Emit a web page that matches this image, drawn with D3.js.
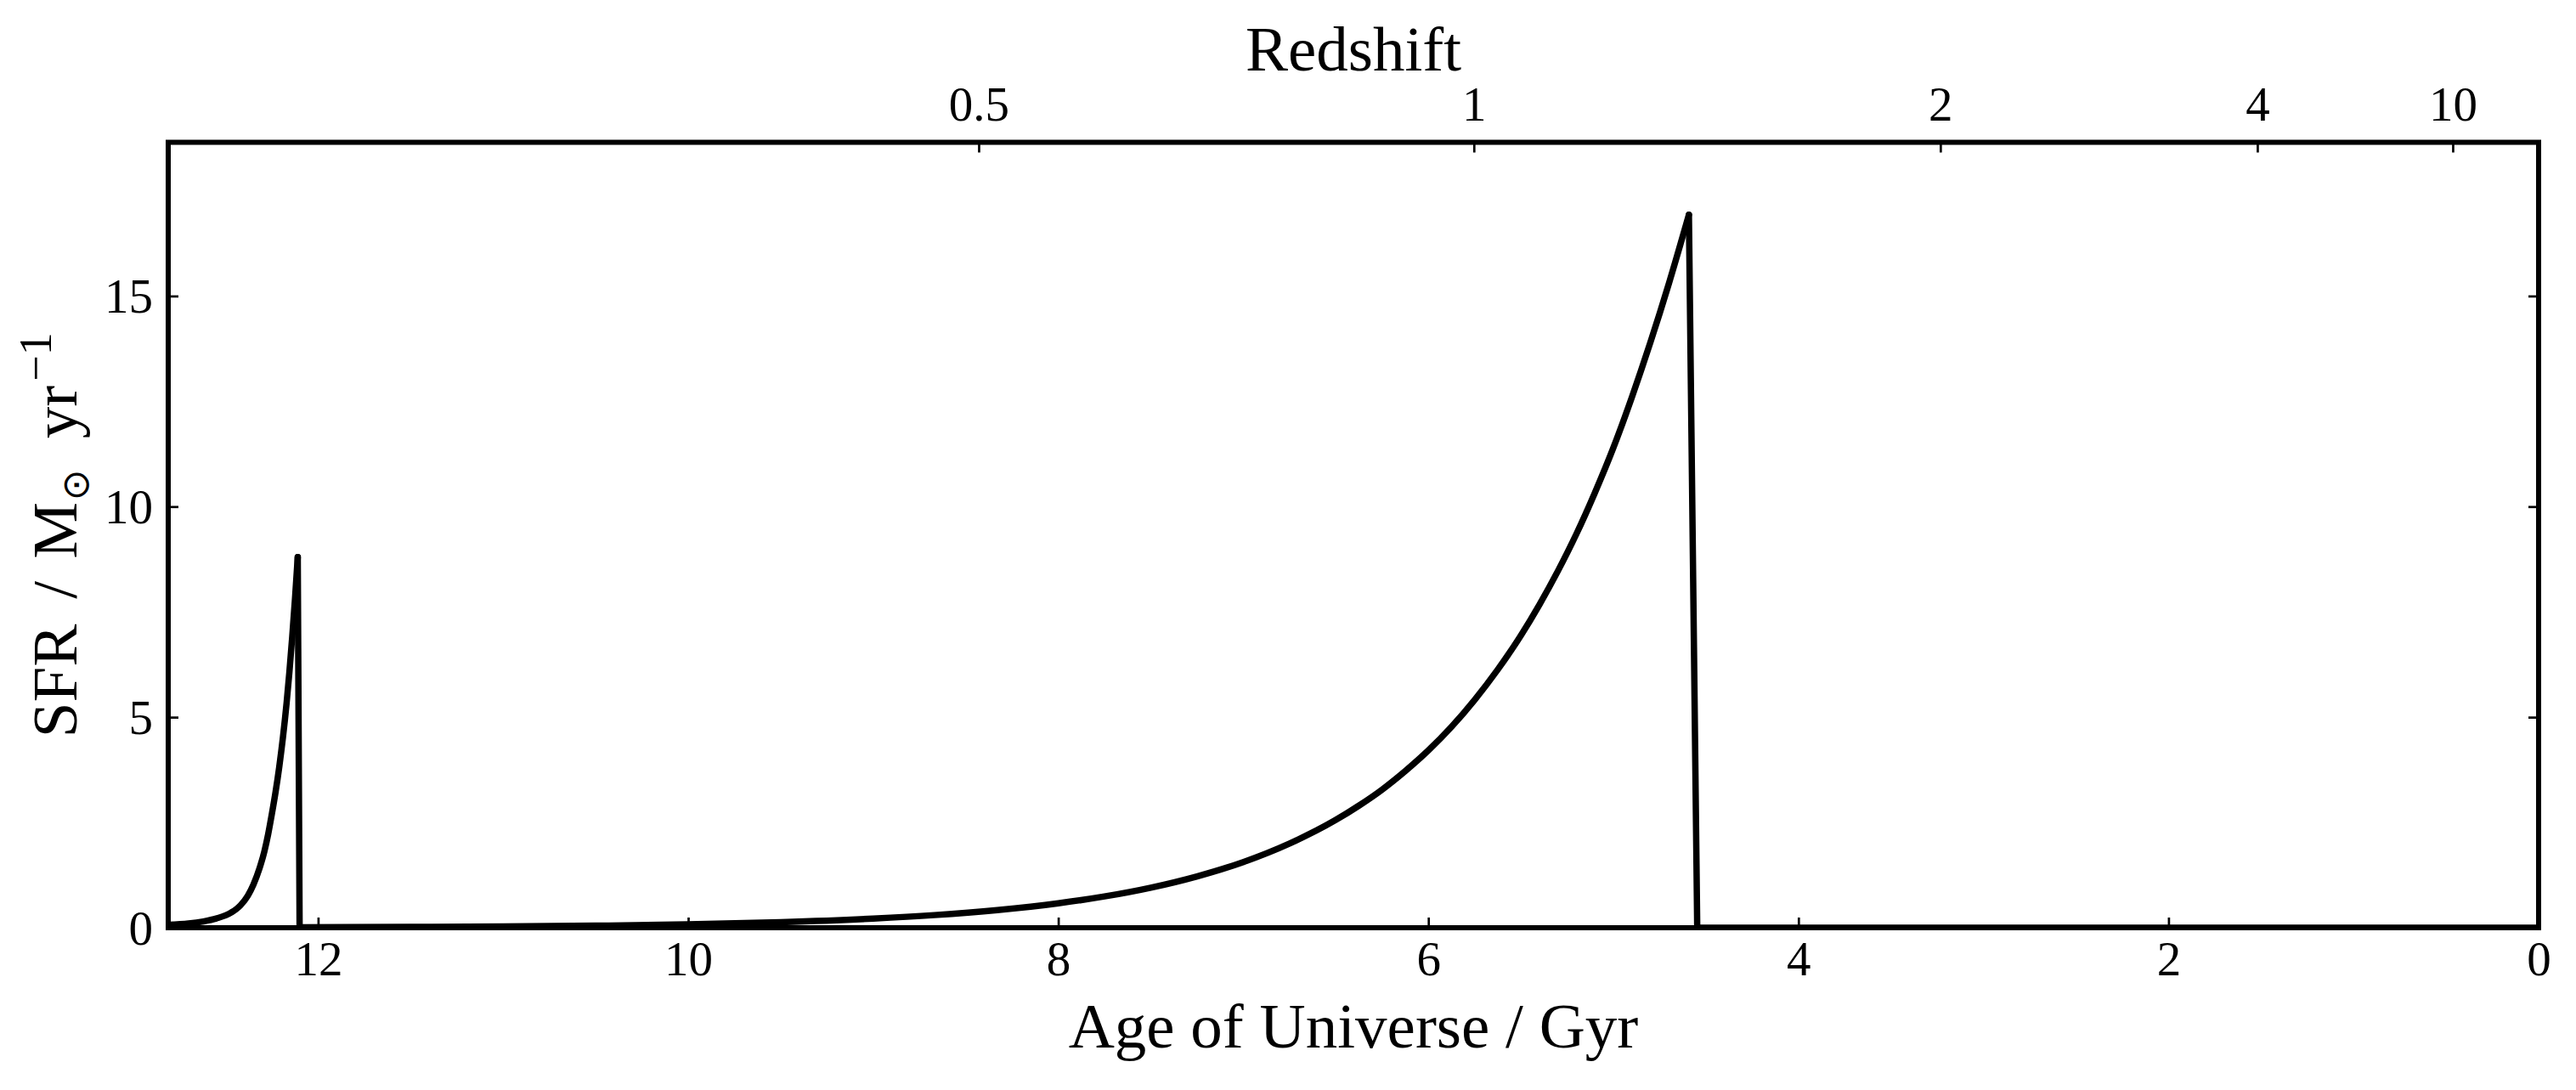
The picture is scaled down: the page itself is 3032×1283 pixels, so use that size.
<!DOCTYPE html>
<html>
<head>
<meta charset="utf-8">
<script src="https://cdn.jsdelivr.net/npm/d3@7"></script>
<style>
  html, body { margin: 0; padding: 0; background: #fff; }
  svg { display: block; }
  text { font-family: "Liberation Serif", "DejaVu Serif", serif; fill: #000; }
</style>
</head>
<body>
<svg id="chart" width="3032" height="1283"></svg>
<script>
// ---------------- data ----------------
const ageTicks = [12, 10, 8, 6, 4, 2, 0];
const sfrTicks = [0, 5, 10, 15];
const redshiftLabels = ["0.5", "1", "2", "4", "10"];
const redshiftAges = [8.43, 5.754, 3.233, 1.52, 0.464];

// early burst (age in Gyr, SFR in Msun/yr)
const burst1Age = [12.81, 12.70, 12.62, 12.55, 12.47, 12.42, 12.38, 12.35, 12.316, 12.29, 12.27, 12.25, 12.23, 12.21, 12.19, 12.17, 12.155, 12.14, 12.125, 12.11];
const burst1Sfr = [0.07, 0.10, 0.15, 0.22, 0.36, 0.53, 0.76, 1.02, 1.42, 1.82, 2.22, 2.70, 3.22, 3.82, 4.52, 5.35, 6.08, 6.90, 7.80, 8.80];

// main burst
const burst2Age = [12.10, 11.5, 11.0, 10.5, 10.0, 9.5, 9.0, 8.67, 8.33, 8.0, 7.75, 7.5, 7.25, 7.0, 6.75, 6.5, 6.375, 6.25, 6.125, 6.0, 5.875, 5.75, 5.625, 5.5, 5.4, 5.3, 5.2, 5.1, 5.0, 4.9, 4.8, 4.7, 4.592];
const burst2Sfr = [0.01, 0.018, 0.03, 0.049, 0.08, 0.131, 0.216, 0.30, 0.42, 0.58, 0.743, 0.952, 1.22, 1.56, 2.00, 2.56, 2.90, 3.28, 3.72, 4.21, 4.77, 5.41, 6.13, 6.94, 7.67, 8.47, 9.35, 10.33, 11.40, 12.60, 13.90, 15.30, 16.93];

// quenched tail
const quenchAge = [4.547, 0];
const quenchSfr = [0, 0];

// ---------------- layout ----------------
const mLeft = 198, mRight = 2988, mTop = 167.5, mBottom = 1092;
const svg = d3.select("#chart");

const x = d3.scaleLinear().domain([12.81, 0]).range([mLeft, mRight]);
const y = d3.scaleLinear().domain([0, 18.65]).range([mBottom, mTop]);

const tickFont = 57, labelFont = 75, tickLen = 12, tickW = 2.7;

// clip
svg.append("defs").append("clipPath").attr("id", "plotclip")
  .append("rect").attr("x", mLeft).attr("y", mTop).attr("width", mRight - mLeft).attr("height", mBottom - mTop);

// ---------------- curve ----------------
const zip = (a, b) => a.map((v, i) => [v, b[i]]);
const b1 = zip(burst1Age, burst1Sfr);
const b2 = zip(burst2Age, burst2Sfr);
const qn = zip(quenchAge, quenchSfr);

const smooth = d3.line().x(d => x(d[0])).y(d => y(d[1])).curve(d3.curveMonotoneX);
const straight = d3.line().x(d => x(d[0])).y(d => y(d[1]));

const g = svg.append("g").attr("clip-path", "url(#plotclip)");
const lineStyle = sel => sel.attr("fill", "none").attr("stroke", "#000").attr("stroke-width", 7.5)
  .attr("stroke-linejoin", "round").attr("stroke-linecap", "round");

g.append("path").attr("d", smooth(b1)).call(lineStyle);
g.append("path").attr("d", straight([b1[b1.length - 1], b2[0]])).call(lineStyle);
g.append("path").attr("d", smooth(b2)).call(lineStyle);
g.append("path").attr("d", straight([b2[b2.length - 1]].concat(qn))).call(lineStyle);

// ---------------- axes ----------------
function styleAxis(sel) {
  sel.select(".domain").remove();
  sel.selectAll(".tick line").attr("stroke", "#000").attr("stroke-width", tickW);
  sel.selectAll(".tick text").attr("font-size", tickFont).attr("fill", "#000")
     .attr("font-family", "Liberation Serif, DejaVu Serif, serif");
}

const xb = svg.append("g").attr("transform", `translate(0,${mBottom})`)
  .call(d3.axisBottom(x).tickValues(ageTicks).tickFormat(d3.format("d")).tickSize(-tickLen))
  .call(styleAxis);
xb.selectAll(".tick text").attr("y", 56).attr("dy", null);

const xt = svg.append("g").attr("transform", `translate(0,${mTop})`)
  .call(d3.axisTop(x).tickValues(redshiftAges).tickFormat((d, i) => redshiftLabels[i]).tickSize(-tickLen))
  .call(styleAxis);
xt.selectAll(".tick text").attr("y", -25.5).attr("dy", null);

const yl = svg.append("g").attr("transform", `translate(${mLeft},0)`)
  .call(d3.axisLeft(y).tickValues(sfrTicks).tickFormat(d3.format("d")).tickSize(-tickLen))
  .call(styleAxis);
yl.selectAll(".tick text").attr("x", -18).attr("dy", "0.34em");

svg.append("g").attr("transform", `translate(${mRight},0)`)
  .call(d3.axisRight(y).tickValues(sfrTicks).tickFormat("").tickSize(-tickLen))
  .call(styleAxis);

// frame
svg.append("rect").attr("x", mLeft).attr("y", mTop).attr("width", mRight - mLeft).attr("height", mBottom - mTop)
  .attr("fill", "none").attr("stroke", "#000").attr("stroke-width", 6);

// ---------------- labels ----------------
svg.append("text").attr("x", (mLeft + mRight) / 2).attr("y", 1233)
  .attr("text-anchor", "middle").attr("font-size", labelFont)
  .text("Age of Universe / Gyr");

svg.append("text").attr("x", (mLeft + mRight) / 2).attr("y", 83)
  .attr("text-anchor", "middle").attr("font-size", labelFont)
  .text("Redshift");

const yt = svg.append("text")
  .attr("transform", `translate(90,${(mTop + mBottom) / 2}) rotate(-90)`)
  .attr("text-anchor", "middle").attr("font-size", labelFont);
yt.append("tspan").text("SFR");
yt.append("tspan").attr("dx", 30).text("/");
yt.append("tspan").attr("dx", 26).text("M");
yt.append("tspan").attr("dx", 2).attr("dy", 14).attr("font-size", 44).attr("font-family", "DejaVu Sans, sans-serif").text("\u2299");
yt.append("tspan").attr("dx", 36).attr("dy", -14).text("yr");
yt.append("tspan").attr("dx", 5).attr("dy", -30).attr("font-size", 54).text("\u22121");
</script>
</body>
</html>
